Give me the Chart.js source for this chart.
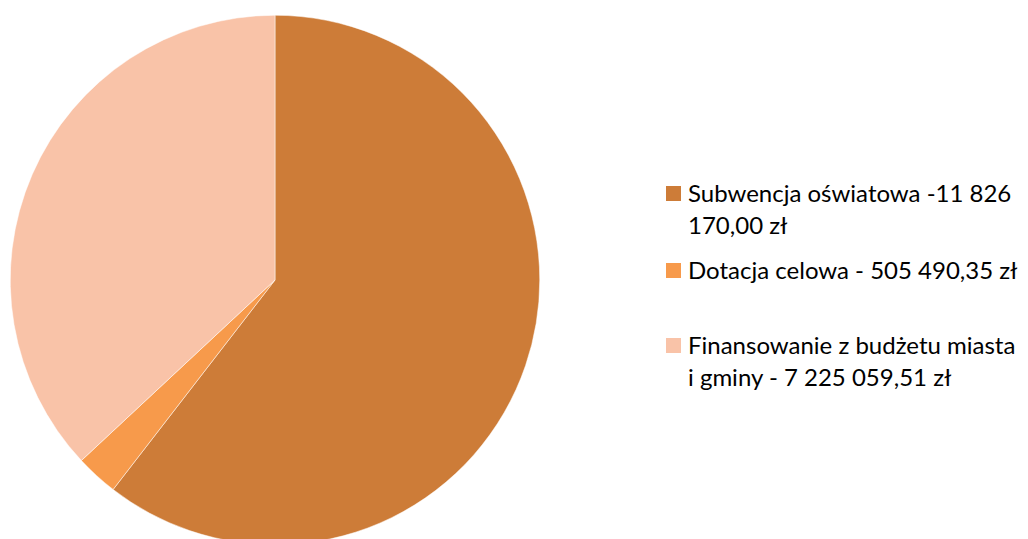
<!DOCTYPE html>
<html><head><meta charset="utf-8">
<script src="https://cdn.jsdelivr.net/npm/chart.js@4"></script>
<style>
html,body{margin:0;padding:0;background:#fff;width:1028px;height:539px;overflow:hidden;position:relative;}
#wrap{position:absolute;left:10px;top:15px;width:530px;height:530px;}
#legend{position:absolute;left:666px;top:177px;font-family:Lato,"Open Sans",sans-serif;font-size:24px;color:#000;line-height:32px;}
.item{position:absolute;left:0;white-space:nowrap;}
.sw{position:absolute;left:0;width:15px;height:15px;}
.tx{position:absolute;left:22px;}
</style></head><body>
<div id="wrap"><canvas id="c"></canvas></div>
<div id="legend"></div>
<script>
const categories = ["Subwencja oświatowa -11 826 170,00 zł", "Dotacja celowa - 505 490,35 zł", "Finansowanie z budżetu miasta i gminy - 7 225 059,51 zł"];
const legendLines = [["Subwencja oświatowa -11 826", "170,00 zł"], ["Dotacja celowa - 505 490,35 zł"], ["Finansowanie z budżetu miasta", "i gminy - 7 225 059,51 zł"]];
const values = [11826170.00, 505490.35, 7225059.51];
const colors = ["#CD7C38", "#F79A4B", "#F9C3A8"];

new Chart(document.getElementById('c'), {
  type: 'pie',
  data: { labels: categories, datasets: [{ data: values, backgroundColor: colors, borderColor: '#ffffff', borderWidth: 0.5 }] },
  options: {
    responsive: true, maintainAspectRatio: false, animation: false,
    layout: { padding: 0 },
    plugins: { legend: { display: false }, tooltip: { enabled: false } }
  }
});

const lg = document.getElementById('legend');
const rowTops = [0, 77, 152];
legendLines.forEach((lines, i) => {
  const it = document.createElement('div');
  it.className = 'item';
  it.style.top = rowTops[i] + 'px';
  const sw = document.createElement('div');
  sw.className = 'sw';
  sw.style.background = colors[i];
  sw.style.top = '9px';
  const tx = document.createElement('div');
  tx.className = 'tx';
  tx.style.top = '0px';
  tx.innerHTML = lines.map(l => '<div>' + l + '</div>').join('');
  it.appendChild(sw); it.appendChild(tx);
  lg.appendChild(it);
});
</script>
</body></html>
